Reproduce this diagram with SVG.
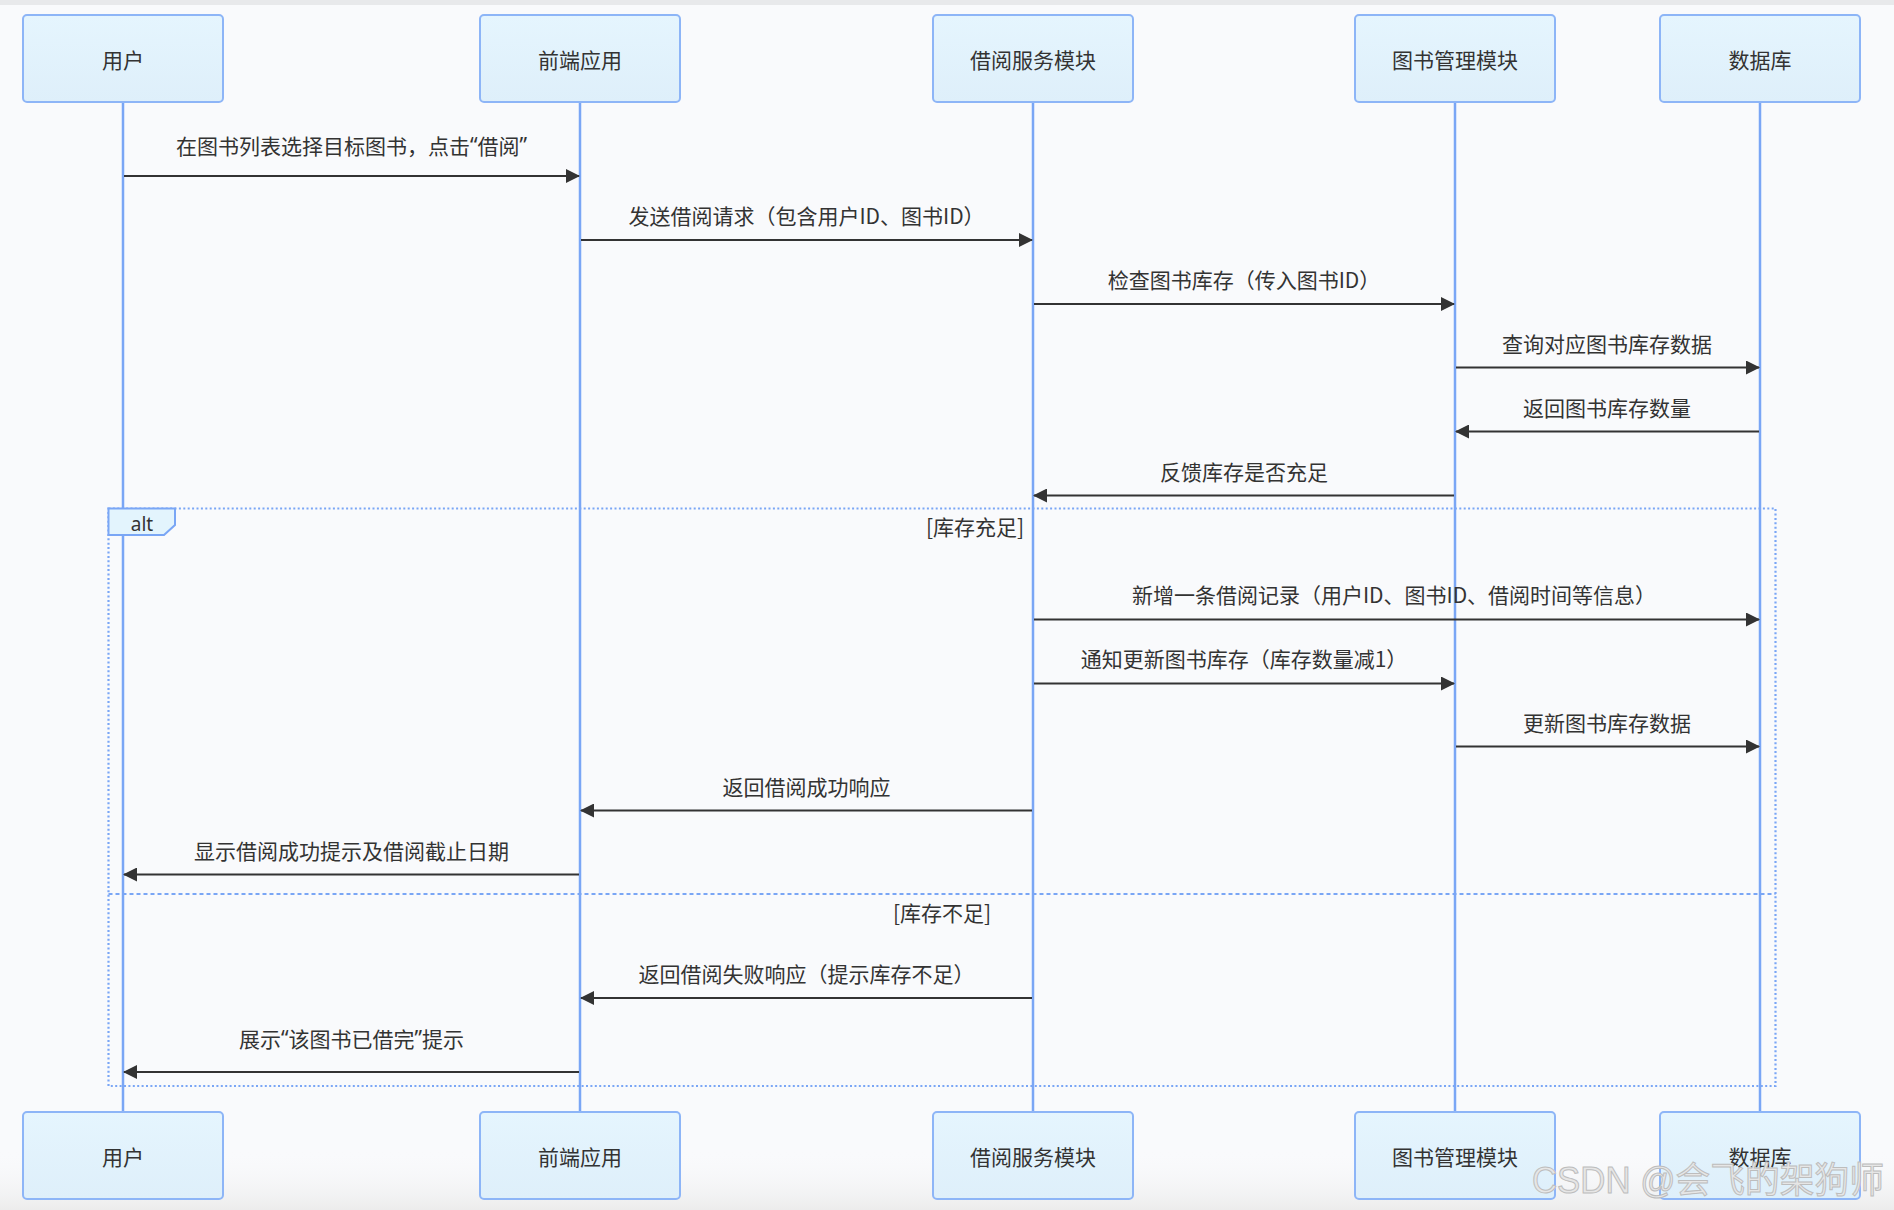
<svg xmlns="http://www.w3.org/2000/svg" width="1894" height="1210" viewBox="0 0 1894 1210">
<defs>
<linearGradient id="boxg" x1="0" y1="0" x2="0" y2="1">
<stop offset="0" stop-color="#e5f5fe"/>
<stop offset="1" stop-color="#deeffa"/>
</linearGradient>
<linearGradient id="bgbot" x1="0" y1="0" x2="0" y2="1">
<stop offset="0" stop-color="#f9fafc" stop-opacity="0"/>
<stop offset="1" stop-color="#ececec"/>
</linearGradient>
<marker id="arr" markerUnits="userSpaceOnUse" markerWidth="14" markerHeight="14" viewBox="0 0 14 14" refX="13" refY="7" orient="auto">
<path d="M0,0 L14,7 L0,14 z" fill="#333"/>
</marker>
<style>
.box{fill:url(#boxg);stroke:#8db5f7;stroke-width:2}
.life{stroke:#7aa6f5;stroke-width:2.5}
.nt{font-family:"Noto Sans CJK SC","Noto Sans",sans-serif;font-size:21px;fill:#333;text-anchor:middle;dominant-baseline:central}
.msg{stroke:#333;stroke-width:2;fill:none;marker-end:url(#arr)}
.ml{font-family:"Noto Sans CJK SC","Noto Sans",sans-serif;font-size:21px;fill:#333;text-anchor:middle;dominant-baseline:central}
.q{font-family:"Noto Sans","Liberation Sans",sans-serif}
.frame{fill:none;stroke:#7aa6f5;stroke-width:2.2;stroke-dasharray:2 2.4}
.div{stroke:#7aa6f5;stroke-width:2.2;stroke-dasharray:4 3;fill:none}
</style>
</defs>
<rect width="1894" height="1210" fill="#f9fafc"/>
<rect width="1894" height="5" fill="#e8e9eb"/>
<rect y="1150" width="1894" height="60" fill="url(#bgbot)"/>

<g id="participant-user">
<line class="life" x1="123" y1="102" x2="123" y2="1112"/>
<rect class="box" x="23" y="15" width="200" height="87" rx="4"/>
<text class="nt" x="123" y="59">用户</text>
<rect class="box" x="23" y="1112" width="200" height="87" rx="4"/>
<text class="nt" x="123" y="1156">用户</text>
</g>
<g id="participant-frontend">
<line class="life" x1="580" y1="102" x2="580" y2="1112"/>
<rect class="box" x="480" y="15" width="200" height="87" rx="4"/>
<text class="nt" x="580" y="59">前端应用</text>
<rect class="box" x="480" y="1112" width="200" height="87" rx="4"/>
<text class="nt" x="580" y="1156">前端应用</text>
</g>
<g id="participant-borrow">
<line class="life" x1="1033" y1="102" x2="1033" y2="1112"/>
<rect class="box" x="933" y="15" width="200" height="87" rx="4"/>
<text class="nt" x="1033" y="59">借阅服务模块</text>
<rect class="box" x="933" y="1112" width="200" height="87" rx="4"/>
<text class="nt" x="1033" y="1156">借阅服务模块</text>
</g>
<g id="participant-book">
<line class="life" x1="1455" y1="102" x2="1455" y2="1112"/>
<rect class="box" x="1355" y="15" width="200" height="87" rx="4"/>
<text class="nt" x="1455" y="59">图书管理模块</text>
<rect class="box" x="1355" y="1112" width="200" height="87" rx="4"/>
<text class="nt" x="1455" y="1156">图书管理模块</text>
</g>
<g id="participant-db">
<line class="life" x1="1760" y1="102" x2="1760" y2="1112"/>
<rect class="box" x="1660" y="15" width="200" height="87" rx="4"/>
<text class="nt" x="1760" y="59">数据库</text>
<rect class="box" x="1660" y="1112" width="200" height="87" rx="4"/>
<text class="nt" x="1760" y="1156">数据库</text>
</g>

<g id="alt-frame">
<rect class="frame" x="108.5" y="508.5" width="1667" height="577.5"/>
<line class="div" x1="108.5" y1="894" x2="1775.5" y2="894"/>
<polygon points="108.5,508.5 175,508.5 175,525 164,535 108.5,535" fill="#e3f4fd" stroke="#7aa6f5" stroke-width="2"/>
<text x="142" y="524" font-family="'Noto Sans','Liberation Sans',sans-serif" font-size="19" fill="#333" text-anchor="middle" dominant-baseline="central">alt</text>
<text class="ml" x="975" y="526">[库存充足]</text>
<text class="ml" x="942" y="912">[库存不足]</text>
</g>

<g id="messages">
<line class="msg" x1="124" y1="176" x2="579" y2="176"/>
<text class="ml" x="351.5" y="145">在图书列表选择目标图书，点击<tspan class="q">“</tspan>借阅<tspan class="q">”</tspan></text>
<line class="msg" x1="581" y1="240" x2="1032" y2="240"/>
<text class="ml" x="806.5" y="215">发送借阅请求（包含用户ID、图书ID）</text>
<line class="msg" x1="1034" y1="304" x2="1454" y2="304"/>
<text class="ml" x="1244" y="279">检查图书库存（传入图书ID）</text>
<line class="msg" x1="1456" y1="367.5" x2="1759" y2="367.5"/>
<text class="ml" x="1607" y="343">查询对应图书库存数据</text>
<line class="msg" x1="1759" y1="431.5" x2="1456" y2="431.5"/>
<text class="ml" x="1607" y="407">返回图书库存数量</text>
<line class="msg" x1="1454" y1="495.5" x2="1034" y2="495.5"/>
<text class="ml" x="1244" y="471">反馈库存是否充足</text>
<line class="msg" x1="1034" y1="619.5" x2="1759" y2="619.5"/>
<text class="ml" x="1394" y="594">新增一条借阅记录（用户ID、图书ID、借阅时间等信息）</text>
<line class="msg" x1="1034" y1="683.5" x2="1454" y2="683.5"/>
<text class="ml" x="1244" y="658">通知更新图书库存（库存数量减1）</text>
<line class="msg" x1="1456" y1="746.5" x2="1759" y2="746.5"/>
<text class="ml" x="1607" y="722">更新图书库存数据</text>
<line class="msg" x1="1032" y1="810.5" x2="581" y2="810.5"/>
<text class="ml" x="806.5" y="786">返回借阅成功响应</text>
<line class="msg" x1="579" y1="874.5" x2="124" y2="874.5"/>
<text class="ml" x="351.5" y="850">显示借阅成功提示及借阅截止日期</text>
<line class="msg" x1="1032" y1="998" x2="581" y2="998"/>
<text class="ml" x="806.5" y="973">返回借阅失败响应（提示库存不足）</text>
<line class="msg" x1="579" y1="1072" x2="124" y2="1072"/>
<text class="ml" x="351.5" y="1038">展示<tspan class="q">“</tspan>该图书已借完<tspan class="q">”</tspan>提示</text>
</g>

<text x="1532" y="1193" font-family="'Liberation Sans','Noto Sans CJK SC',sans-serif" font-size="36" fill="#e6e6e6" stroke="#bdbdbd" stroke-width="1" textLength="352" lengthAdjust="spacingAndGlyphs">CSDN @会飞的架狗师</text>
</svg>
